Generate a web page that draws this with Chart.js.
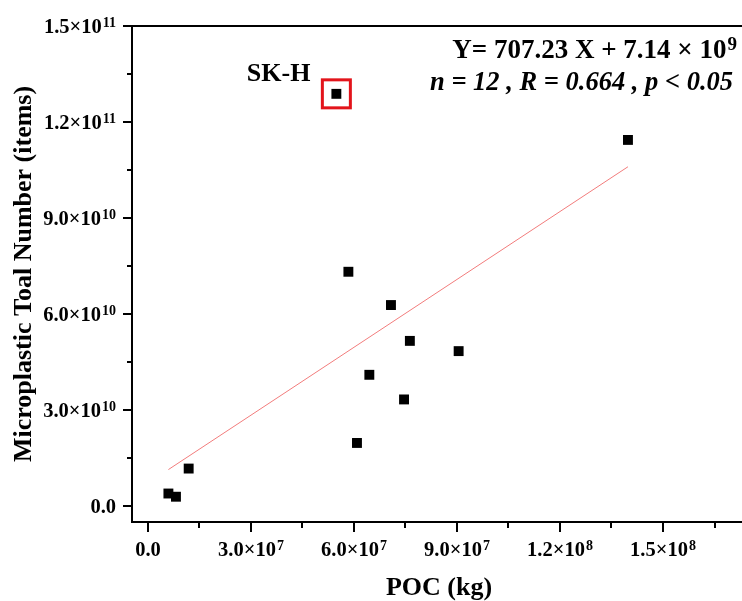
<!DOCTYPE html>
<html>
<head>
<meta charset="utf-8">
<title>POC vs microplastic number</title>
<script src="https://cdn.jsdelivr.net/npm/chart.js@4.4.0/dist/chart.umd.min.js"></script>
<style>
body { margin: 0; background: #fff; }
#chartBox { width: 742px; height: 601px; }
</style>
</head>
<body>
<div id="chartBox"><canvas id="pocChart" width="742" height="601"></canvas></div>
<script>
// POC (kg) and microplastic total number (items) per site
var pocValues = [0.60e7, 0.82e7, 1.19e7, 5.49e7, 5.84e7, 6.09e7, 6.45e7, 7.08e7, 7.46e7, 7.63e7, 9.05e7, 13.98e7];
var mpValues = [0.39e10, 0.29e10, 1.17e10, 12.88e10, 7.32e10, 1.97e10, 4.10e10, 6.28e10, 3.33e10, 5.16e10, 4.84e10, 11.44e10];
var siteLabels = ["", "", "", "SK-H", "", "", "", "", "", "", "", ""];

// tick positions: labelled majors and unlabelled minors
var xMajorTicks = [0, 3e7, 6e7, 9e7, 1.2e8, 1.5e8];
var xMinorTicks = [1.5e7, 4.5e7, 7.5e7, 1.05e8, 1.35e8, 1.65e8];
var yMajorTicks = [0, 3e10, 6e10, 9e10, 1.2e11, 1.5e11];
var yMinorTicks = [1.5e10, 4.5e10, 7.5e10, 1.05e11, 1.35e11];

// linear fit reported on the chart
var fitSlope = 707.23;
var fitIntercept = 7.14e9;
var fitLines = ["Y= 707.23 X + 7.14 \u00d7 10", "9", "n = 12 , R = 0.664 , p < 0.05"];

var xTitle = "POC (kg)";
var yTitle = "Microplastic Toal Number (items)";

var SERIF = '"Liberation Serif", "Times New Roman", serif';

var points = [];
for (var i = 0; i < pocValues.length; i++)
{
    points.push({x: pocValues[i], y: mpValues[i]});
}

var xMin = Math.min.apply(null, pocValues);
var xMax = Math.max.apply(null, pocValues);
var fitPoints = [
    {x: xMin, y: fitSlope * xMin + fitIntercept},
    {x: xMax, y: fitSlope * xMax + fitIntercept}
];

function tickList(major, minor)
{
    var list = [];
    major.forEach(function (v) { list.push({value: v, major: true}); });
    minor.forEach(function (v) { list.push({value: v, major: false}); });
    list.sort(function (a, b) { return a.value - b.value; });
    return list;
}

function sciParts(v)
{
    if (v === 0)
    {
        return {base: "0.0", exp: ""};
    }
    var e = Math.floor(Math.log10(v) + 1e-9);
    var m = v / Math.pow(10, e);
    return {base: m.toFixed(1) + "\u00d710", exp: String(e)};
}

function drawSci(ctx, parts, x, y, align)
{
    ctx.textAlign = "left";
    ctx.textBaseline = "alphabetic";
    ctx.font = "bold 20.5px " + SERIF;
    var w1 = ctx.measureText(parts.base).width;
    ctx.font = "bold 14px " + SERIF;
    var w2 = parts.exp ? ctx.measureText(parts.exp).width + 1 : 0;
    var total = w1 + w2;
    var left = x;
    if (align == "right") left = x - total;
    if (align == "center") left = x - total / 2;
    ctx.font = "bold 20.5px " + SERIF;
    ctx.fillText(parts.base, left, y);
    if (parts.exp)
    {
        ctx.font = "bold 14px " + SERIF;
        ctx.fillText(parts.exp, left + w1 + 1, y - 6);
    }
}

var framePlugin = {
    id: "frame",
    afterDraw: function (chart)
    {
        var ctx = chart.ctx;
        var area = chart.chartArea;
        var xs = chart.scales.x;
        var ys = chart.scales.y;
        ctx.save();
        ctx.fillStyle = "#000";
        ctx.strokeStyle = "#000";
        ctx.lineWidth = 2;

        // top frame line
        ctx.beginPath();
        ctx.moveTo(area.left - 1, area.top);
        ctx.lineTo(area.right, area.top);
        ctx.stroke();

        // x ticks
        xs.ticks.forEach(function (t)
        {
            var px = Math.round(xs.getPixelForValue(t.value));
            ctx.beginPath();
            ctx.moveTo(px, area.bottom);
            ctx.lineTo(px, area.bottom + (t.major ? 10 : 6));
            ctx.stroke();
            if (t.major)
            {
                drawSci(ctx, sciParts(t.value), px, area.bottom + 34, "center");
            }
        });

        // y ticks
        ys.ticks.forEach(function (t)
        {
            var py = Math.round(ys.getPixelForValue(t.value));
            ctx.beginPath();
            ctx.moveTo(area.left, py);
            ctx.lineTo(area.left - (t.major ? 9 : 5), py);
            ctx.stroke();
            if (t.major)
            {
                drawSci(ctx, sciParts(t.value), area.left - 16, py + 7, "right");
            }
        });

        // axis titles
        ctx.font = "bold 26px " + SERIF;
        ctx.textAlign = "center";
        ctx.textBaseline = "alphabetic";
        ctx.fillText(xTitle, (area.left + area.right) / 2 + 2, 595);
        ctx.save();
        ctx.translate(31, 274);
        ctx.rotate(-Math.PI / 2);
        ctx.fillText(yTitle, 0, 0);
        ctx.restore();

        // fit equation, right aligned
        ctx.font = "bold 19px " + SERIF;
        var supW = ctx.measureText(fitLines[1]).width;
        ctx.textAlign = "right";
        ctx.fillText(fitLines[1], 737, 50);
        ctx.font = "bold 27px " + SERIF;
        ctx.fillText(fitLines[0], 737 - supW - 1, 58);
        ctx.font = "italic bold 26.5px " + SERIF;
        ctx.fillText(fitLines[2], 733, 90);

        // highlighted site
        var meta = chart.getDatasetMeta(0);
        for (var i = 0; i < siteLabels.length; i++)
        {
            if (!siteLabels[i]) continue;
            var el = meta.data[i];
            ctx.strokeStyle = "#e3141b";
            ctx.lineWidth = 3;
            ctx.strokeRect(el.x - 14, el.y - 14, 28, 28);
            ctx.font = "bold 26px " + SERIF;
            ctx.textAlign = "right";
            ctx.fillText(siteLabels[i], el.x - 26, el.y - 13);
        }
        ctx.restore();
    }
};

var pocChart = new Chart(document.getElementById("pocChart"), {
    type: "scatter",
    data: {
        datasets: [
        {
            label: "sites",
            data: points,
            pointStyle: "rect",
            pointRadius: 7,
            pointBorderWidth: 0,
            backgroundColor: "#000",
            borderColor: "#000"
        },
        {
            label: "fit",
            data: fitPoints,
            showLine: true,
            pointRadius: 0,
            borderColor: "#f27c7c",
            borderWidth: 1
        }]
    },
    options: {
        responsive: false,
        animation: false,
        layout: {
            autoPadding: false,
            padding: {top: 26, right: 0, bottom: 0, left: 0}
        },
        plugins: {
            legend: {display: false},
            tooltip: {enabled: false}
        },
        scales: {
            x: {
                type: "linear",
                min: -4.6e6,
                max: 1.73e8,
                ticks: {display: false},
                grid: {display: false},
                border: {display: true, color: "#000", width: 2},
                afterBuildTicks: function (scale) { scale.ticks = tickList(xMajorTicks, xMinorTicks); },
                afterFit: function (scale) { scale.height = 79; }
            },
            y: {
                type: "linear",
                min: -5e9,
                max: 1.5e11,
                ticks: {display: false},
                grid: {display: false},
                border: {display: true, color: "#000", width: 2},
                afterBuildTicks: function (scale) { scale.ticks = tickList(yMajorTicks, yMinorTicks); },
                afterFit: function (scale) { scale.width = 132; }
            }
        }
    },
    plugins: [framePlugin]
});
</script>
</body>
</html>
